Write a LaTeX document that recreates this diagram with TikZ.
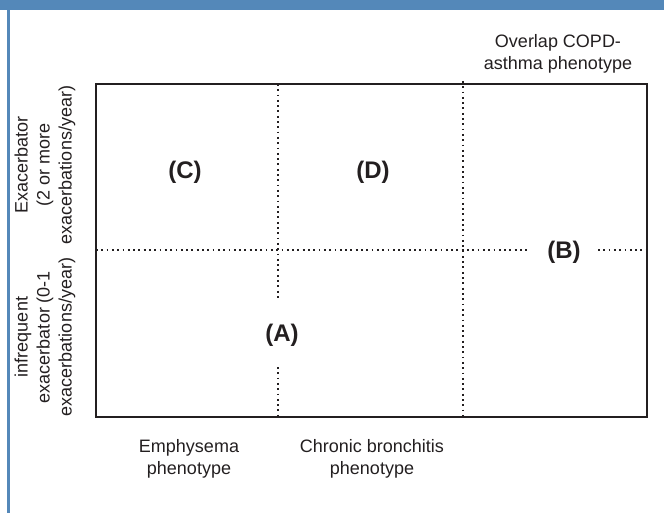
\documentclass[tikz,border=0pt]{standalone}
\usepackage{fontspec}
\setmainfont{Liberation Sans}
\definecolor{framecol}{RGB}{84,136,185}
\definecolor{inkcol}{RGB}{35,31,32}
\tikzset{
  axislabel/.style={text=inkcol, align=center, inner sep=0pt,
    font=\fontsize{18}{22}\selectfont},
  quadlabel/.style={text=inkcol, inner sep=0pt,
    font=\fontsize{24}{28}\selectfont\bfseries},
  dotline/.style={inkcol, line width=1.8pt, dash pattern=on 1.8pt off 3.5pt},
  boxline/.style={inkcol, line width=2.5pt}
}

\begin{document}
\begin{tikzpicture}[x=1pt,y=-1pt]
  \useasboundingbox (0,0) rectangle (664,513);

  % Frame
  \fill[framecol] (0,0) rectangle (664,10);
  \fill[framecol] (7,10) rectangle (9.5,513);

  \coordinate (NW) at (96,84);
  \coordinate (SE) at (647,417);

  % Dividers
  \coordinate (P1) at (278,84);
  \coordinate (P2) at (278,298);
  \coordinate (P3) at (278,367);
  \coordinate (P4) at (278,417);
  \coordinate (Q1) at (463,81);
  \coordinate (Q2) at (463,417);
  \coordinate (H1) at (96,250);
  \coordinate (H2) at (530,250);
  \coordinate (H3) at (598,250);
  \coordinate (H4) at (647,250);

  \draw[dotline] (P1) -- (P2) (P3) -- (P4);
  \draw[dotline] (Q1) -- (Q2);
  \draw[dotline] (H1) -- (H2) (H3) -- (H4);

  \draw[boxline] (NW) rectangle (SE);

  % Quadrants
  \node[quadlabel] (C) at (185,172) {(C)};
  \node[quadlabel] (D) at (373,172) {(D)};
  \node[quadlabel] (A) at (282,335) {(A)};
  \node[quadlabel] (B) at (564,252) {(B)};

  % Phenotypes
  \node[axislabel] (emph) at (189,459) {Emphysema\\phenotype};
  \node[axislabel] (chron) at (372,459) {Chronic bronchitis\\phenotype};
  \node[axislabel] (overlap) at (558,54) {Overlap COPD-\\asthma phenotype};

  % Exacerbations
  \node[axislabel, rotate=90] (exac) at (45,165) {Exacerbator\\(2 or more\\exacerbations/year)};
  \node[axislabel, rotate=90] (infreq) at (45,337) {infrequent\\exacerbator (0-1\\exacerbations/year)};
\end{tikzpicture}
\end{document}
